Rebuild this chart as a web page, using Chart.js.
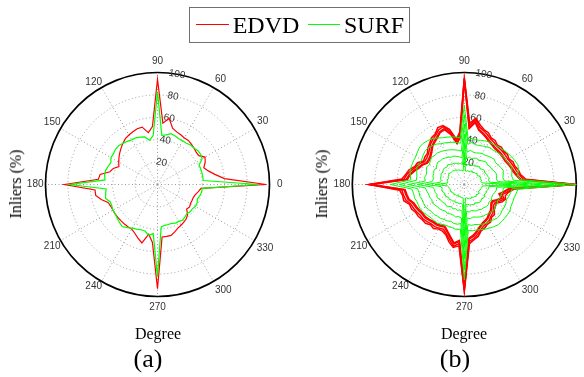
<!DOCTYPE html>
<html><head><meta charset="utf-8">
<script src="https://cdn.jsdelivr.net/npm/chart.js@4/dist/chart.umd.min.js"></script>
<style>
html,body{margin:0;padding:0;background:#fff;width:584px;height:377px;overflow:hidden;position:relative;}
canvas{position:absolute;left:0;top:0;}
.t{position:absolute;font-family:"Liberation Serif","Times New Roman",serif;font-weight:normal;color:#000;white-space:nowrap;line-height:1;transform:translate(-50%,-50%);}
.v{transform:translate(-50%,-50%) rotate(-90deg);}
</style></head><body>
<canvas id="chartA" width="584" height="377"></canvas>
<canvas id="chartB" width="584" height="377"></canvas>
<div style="position:absolute;left:189px;top:7px;width:221px;height:36px;box-sizing:border-box;border:1px solid #707070;"></div>
<div style="position:absolute;left:196px;top:24px;width:33px;height:1px;background:#ff0000;"></div>
<div style="position:absolute;left:308px;top:24px;width:32px;height:1px;background:#00ff00;"></div>
<div class="t" style="left:266px;top:25px;font-size:24px;">EDVD</div>
<div class="t" style="left:374px;top:25px;font-size:24px;">SURF</div>
<div class="t v" style="left:16px;top:184px;font-size:16px;">Inliers (%)</div>
<div class="t v" style="left:322px;top:184px;font-size:16px;">Inliers (%)</div>
<div class="t" style="left:158px;top:334px;font-size:16px;">Degree</div>
<div class="t" style="left:464px;top:334px;font-size:16px;">Degree</div>
<div class="t" style="left:148px;top:359px;font-size:26px;">(a)</div>
<div class="t" style="left:455px;top:359px;font-size:26px;">(b)</div>
<script>
// ---- categories (degrees, counter-clockwise from east) ----
const angleDeg = [0,5,10,15,20,25,30,35,40,45,50,55,60,65,70,75,80,85,90,95,100,105,110,115,120,125,130,135,140,145,150,155,160,165,170,175,180,185,190,195,200,205,210,215,220,225,230,235,240,245,250,255,260,265,270,275,280,285,290,295,300,305,310,315,320,325,330,335,340,345,350,355];
const angleTickLabels = [0,30,60,90,120,150,180,210,240,270,300,330];
const radialTicks = [20,40,60,80,100];

// ---- (a) ----
const edvdA = [97,60,52,47,44,47,49,45,45,46,47,48,48,49,50,52,60,55,94,52,47,53,53,52,51,50,48,46,44,42,40,38,42,44,52,53,83,56,56,52,47,46,46,46,46,46,46,46,46,48,51,54,45,52,93,47,47,47,45,43,42,41,40,38,34,35,34,34,34,35,37,39];
const surfA = [90,41,41,41,41,41,46,47,47,46,46,45,45,45,46,47,45,44,83,44,40,44,45,46,46,47,48,49,49,48,48,46,47,48,48,47,78,46,47,48,45,45,46,46,47,48,49,47,45,44,43,43,46,44,82,38,37,37,37,38,38,39,38,37,38,38,39,39,38,39,40,40];

// ---- (b) EDVD runs ----
const edvdB1 = [97,50,47,45,44,43,42,42,42,42,42,43,44,46,48,50,56,50,93,42,37,46,52,51,48,46,44,41,39,38,38,41,43,46,49,51,83,53,52,51,48,47,46,45,45,44,43,43,42,41,44,48,53,50,93,48,46,43,40,38,37,36,34,33,31,29,29,32,35,32,36,40];
const edvdB2 = [98,51,48,46,45,44,43,43,43,43,43,44,45,47,49,51,57,51,94,43,38,47,53,52,49,47,45,42,40,39,39,42,44,47,50,52,84,54,53,52,49,48,47,46,46,45,44,44,43,42,45,49,54,51,94,49,47,44,41,39,38,37,35,34,32,30,30,33,36,33,37,41];
const edvdB3 = [99,53,50,48,47,46,45,45,45,45,45,46,47,49,51,53,59,53,95,45,40,49,55,54,51,49,47,44,42,41,41,44,46,49,52,54,85,56,55,54,51,50,49,48,48,47,46,46,45,44,47,51,56,53,95,51,49,46,43,41,40,39,37,36,34,32,32,35,38,35,39,43];
const edvdB4 = [100,55,51,50,48,48,46,47,46,47,46,48,48,51,52,55,60,55,95,47,41,51,56,56,52,51,48,46,43,43,42,46,47,51,53,56,85,58,56,56,52,52,50,50,49,49,47,48,46,46,48,53,57,55,95,53,50,48,44,43,41,41,38,38,35,34,33,37,39,38,40,45];

// ---- (b) SURF runs ----
const surfB1 = [42,16,15,16,15,16,15,14,15,14,14,13,14,13,12,13,12,12,28,12,13,13,14,14,15,15,16,16,16,17,16,16,15,16,15,15,26,15,14,14,13,14,13,13,12,13,12,12,11,12,11,12,12,12,35,12,12,13,13,14,13,14,14,15,14,15,15,14,15,15,16,16];
const surfB2 = [56,23,22,23,22,22,21,22,21,20,21,20,19,19,18,19,18,17,37,18,19,19,20,21,21,22,23,22,23,23,22,23,22,22,21,22,34,21,20,21,20,19,20,19,18,19,18,18,17,18,17,18,17,18,46,18,18,19,19,20,19,20,21,21,20,21,21,20,21,21,22,22];
const surfB3 = [68,30,29,30,30,29,28,28,27,28,27,26,25,26,25,24,25,23,45,24,25,26,27,27,28,29,30,30,31,30,29,30,29,29,28,29,42,28,27,27,26,27,26,25,25,24,25,24,23,24,23,24,23,24,56,24,25,24,25,26,26,27,27,28,28,27,28,27,27,28,29,29];
const surfB4 = [80,36,35,36,37,36,35,34,35,34,33,32,32,31,30,30,31,29,54,30,31,32,33,34,35,36,37,37,38,37,36,37,36,35,36,35,50,35,34,33,33,32,33,32,31,31,30,29,30,29,29,30,29,30,66,30,31,30,31,32,33,33,34,34,35,34,34,33,34,34,35,35];
const surfB5 = [90,44,43,44,45,44,43,43,42,41,40,40,39,38,37,37,38,36,62,37,38,39,40,41,42,44,45,46,46,45,44,44,45,44,43,43,58,42,41,41,40,40,40,39,38,38,37,37,36,36,35,36,36,35,76,36,37,37,38,39,40,40,41,42,42,41,41,41,40,41,42,43];
const surfB6 = [100,50,48,50,51,50,49,48,47,46,45,44,44,43,42,41,42,40,71,42,43,44,45,46,48,50,51,52,52,51,50,50,50,50,49,48,66,47,46,46,45,45,45,44,43,42,42,42,41,40,40,40,41,40,85,41,42,42,43,44,45,46,47,47,47,47,47,46,46,46,47,48];

// ---- radar index order: first spoke at 80 deg, going clockwise ----
const START_DEG = 80;
const order = angleDeg.map((_, i) => angleDeg.indexOf(((START_DEG - 5 * i) % 360 + 360) % 360));
const toRadar = arr => order.map(k => arr[k]);
const radarLabels = order.map(k => String(angleDeg[k]));
const LABEL_PAD = {0:0.5,30:-4,60:-4,90:-2,120:-8,150:-7,180:-5,210:-7,240:-8,270:-2,300:-4,330:-4.5};

// fixed polar geometry for each canvas
const GEOM = { chartA: {x:157.5, y:184.5, r:112}, chartB: {x:464.3, y:184.5, r:112} };
const RLS = Chart.RadialLinearScale.prototype;
const origSetCenter = RLS.setCenterPoint;
RLS.setCenterPoint = function(a, b, c, d) {
  const g = GEOM[this.chart.canvas.id];
  if (g) { this.xCenter = g.x; this.yCenter = g.y; this.drawingArea = g.r; return; }
  return origSetCenter.call(this, a, b, c, d);
};

const FONT = '"Liberation Sans", Arial, sans-serif';
function makeOptions() {
  return {
    responsive: false, animation: false, events: [],
    layout: { padding: 0 },
    plugins: { legend: { display: false }, tooltip: { enabled: false } },
    elements: { point: { radius: 0 }, line: { tension: 0 } },
    scales: {
      r: {
        min: 0, max: radialTicks[radialTicks.length - 1], startAngle: 90 - START_DEG,
        ticks: { stepSize: radialTicks[1] - radialTicks[0], showLabelBackdrop: false, color: '#333', font: { family: FONT, size: 10 } },
        grid: {
          circular: true,
          color: c => (c.tick && c.tick.value === 100) ? '#000' : '#999',
          lineWidth: c => (c.tick && c.tick.value === 100) ? 1.7 : 1
        },
        border: { dash: c => (c.tick && c.tick.value === 100) ? [] : [1, 2.5] },
        angleLines: {
          display: true, color: '#999', borderDash: [1, 2.5],
          lineWidth: c => angleTickLabels.includes(+radarLabels[c.index]) ? 1 : 0
        },
        pointLabels: {
          display: true, color: '#333', font: { family: FONT, size: 10 },
          padding: c => { const a = +radarLabels[c.index]; return angleTickLabels.includes(a) ? LABEL_PAD[a] : 0; },
          callback: lbl => angleTickLabels.includes(+lbl) ? lbl : ''
        }
      }
    }
  };
}
const ds = (label, arr, color, w) => ({ label, data: toRadar(arr), borderColor: color, borderWidth: w, fill: false, pointRadius: 0 });

new Chart(document.getElementById('chartA'), {
  type: 'radar',
  data: { labels: radarLabels, datasets: [ ds('SURF', surfA, '#00ff00', 1.2), ds('EDVD', edvdA, '#ff0000', 1.2) ] },
  options: makeOptions()
});
new Chart(document.getElementById('chartB'), {
  type: 'radar',
  data: { labels: radarLabels, datasets: [
    ds('SURF', surfB1, '#00ff00', 1), ds('SURF', surfB2, '#00ff00', 1), ds('SURF', surfB3, '#00ff00', 1),
    ds('SURF', surfB4, '#00ff00', 1), ds('SURF', surfB5, '#00ff00', 1), ds('SURF', surfB6, '#00ff00', 1),
    ds('EDVD', edvdB1, '#ff0000', 1.5), ds('EDVD', edvdB2, '#ff0000', 1.5), ds('EDVD', edvdB3, '#ff0000', 1.5), ds('EDVD', edvdB4, '#ff0000', 1.5)
  ] },
  options: makeOptions()
});
</script>
</body></html>
